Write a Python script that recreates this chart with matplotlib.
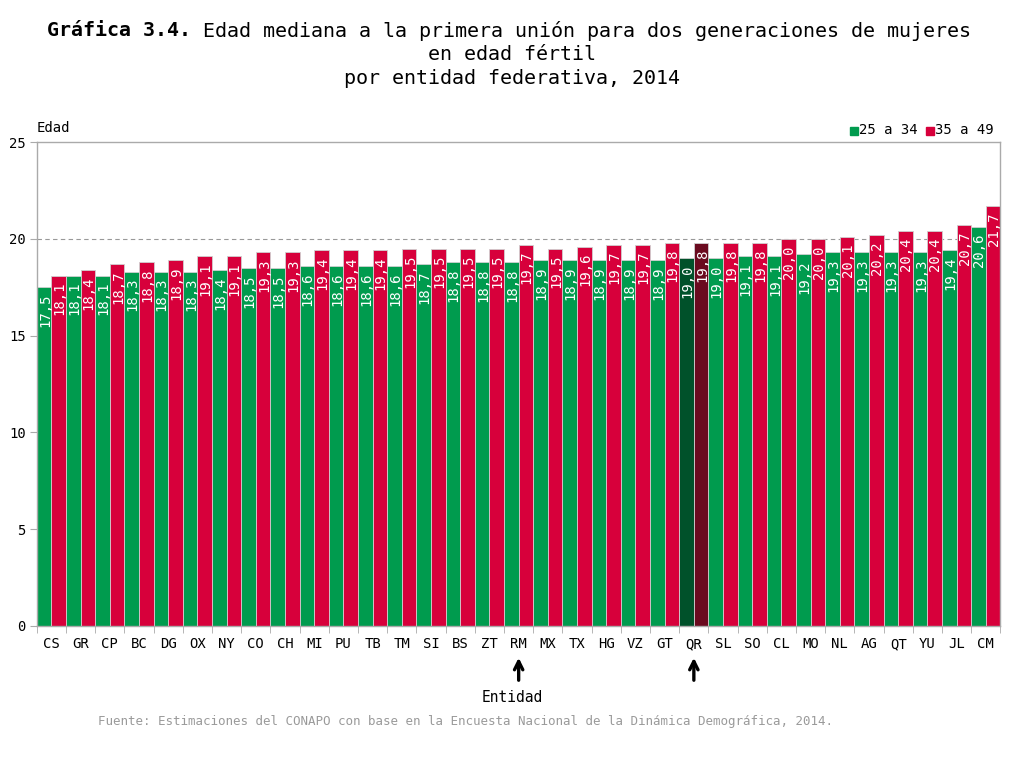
import matplotlib
matplotlib.use("Agg")
import matplotlib.pyplot as plt
import matplotlib.patches as mpatches
import numpy as np

entidades = ["CS", "GR", "CP", "BC", "DG", "OX", "NY", "CO", "CH", "MI", "PU", "TB",
             "TM", "SI", "BS", "ZT", "RM", "MX", "TX", "HG", "VZ", "GT", "QR", "SL",
             "SO", "CL", "MO", "NL", "AG", "QT", "YU", "JL", "CM"]
g25_34 = [17.5, 18.1, 18.1, 18.3, 18.3, 18.3, 18.4, 18.5, 18.5, 18.6, 18.6, 18.6,
          18.6, 18.7, 18.8, 18.8, 18.8, 18.9, 18.9, 18.9, 18.9, 18.9, 19.0, 19.0,
          19.1, 19.1, 19.2, 19.3, 19.3, 19.3, 19.3, 19.4, 20.6]
g35_49 = [18.1, 18.4, 18.7, 18.8, 18.9, 19.1, 19.1, 19.3, 19.3, 19.4, 19.4, 19.4,
          19.5, 19.5, 19.5, 19.5, 19.7, 19.5, 19.6, 19.7, 19.7, 19.8, 19.8, 19.8,
          19.8, 20.0, 20.0, 20.1, 20.2, 20.4, 20.4, 20.7, 21.7]
destacada = "QR"
flechas = ["RM", "QR"]
yticks = [0, 5, 10, 15, 20, 25]

MONO = "DejaVu Sans Mono"
GREEN, RED = "#009B4E", "#D7003B"
DGREEN, DRED = "#00512A", "#6A0A1F"

fig = plt.figure(figsize=(10.24, 7.68), dpi=100)
ax = fig.add_axes([0.036, 0.185, 0.941, 0.63])

x = np.arange(len(entidades))
w = 0.5
cg = [DGREEN if e == destacada else GREEN for e in entidades]
cr = [DRED if e == destacada else RED for e in entidades]
b1 = ax.bar(x - w / 2, g25_34, w, color=cg, edgecolor="#d0d0d0", linewidth=0.6, zorder=2)
b2 = ax.bar(x + w / 2, g35_49, w, color=cr, edgecolor="#d0d0d0", linewidth=0.6, zorder=2)

for bars, vals in ((b1, g25_34), (b2, g35_49)):
    for b, v in zip(bars, vals):
        ax.annotate(f"{v:.1f}".replace(".", ","),
                    xy=(b.get_x() + b.get_width() / 2, v), xytext=(0.5, -4.5),
                    textcoords="offset points", rotation=90, ha="center", va="top",
                    color="white", fontsize=10, family=MONO, zorder=3)

ax.axhline(20, color="#999999", linestyle=(0, (4, 3)), linewidth=0.8, zorder=1)
ax.set_xlim(-0.5, len(entidades) - 0.5)
ax.set_ylim(0, 25)
ax.set_yticks(yticks)
ax.set_yticklabels([str(t) for t in yticks], family=MONO, fontsize=10)
ax.set_xticks(x)
ax.set_xticklabels(entidades, family=MONO, fontsize=10)
ax.tick_params(axis="x", length=0, pad=8)
ax.set_xticks(np.arange(len(entidades) + 1) - 0.5, minor=True)
ax.tick_params(axis="x", which="minor", length=5, color="#aaaaaa")
ax.tick_params(axis="y", length=5, color="#aaaaaa", pad=3)
for s in ax.spines.values():
    s.set_color("#aaaaaa")
    s.set_linewidth(1.0)

for e in flechas:
    i = entidades.index(e)
    ax.annotate("", xy=(i, -1.5), xytext=(i, -2.95), xycoords="data",
                arrowprops=dict(arrowstyle="->,head_length=0.6,head_width=0.3",
                                color="black", lw=2.4), annotation_clip=False)

fig.text(0.5, 1 - 697 / 768, "Entidad", ha="center", va="center", family=MONO, fontsize=10.5)
fig.text(0.036, 1 - 128 / 768, "Edad", ha="left", va="center", family=MONO, fontsize=10)

# Title
t1 = fig.text(0.046, 1 - 31 / 768, "Gráfica 3.4.", ha="left", va="center",
              family=MONO, fontsize=14.4, fontweight="bold")
ax.annotate(" Edad mediana a la primera unión para dos generaciones de mujeres",
            xy=(1, 0.5), xycoords=t1, ha="left", va="center",
            family=MONO, fontsize=14.4, annotation_clip=False)
fig.text(0.5, 1 - 54 / 768, "en edad fértil", ha="center", va="center", family=MONO, fontsize=14.4)
fig.text(0.5, 1 - 78 / 768, "por entidad federativa, 2014", ha="center", va="center",
         family=MONO, fontsize=14.4)

# Legend
ly = 1 - 130 / 768
fig.patches.append(mpatches.Rectangle((850 / 1024, ly - 0.006), 0.0075, 0.01,
                   transform=fig.transFigure, color=GREEN, figure=fig))
fig.text(859 / 1024, ly, "25 a 34", ha="left", va="center", family=MONO, fontsize=10)
fig.patches.append(mpatches.Rectangle((926 / 1024, ly - 0.006), 0.0075, 0.01,
                   transform=fig.transFigure, color=RED, figure=fig))
fig.text(935 / 1024, ly, "35 a 49", ha="left", va="center", family=MONO, fontsize=10)

fig.text(98 / 1024, 1 - 722 / 768,
         "Fuente: Estimaciones del CONAPO con base en la Encuesta Nacional de la Dinámica Demográfica, 2014.",
         ha="left", va="center", family=MONO, fontsize=9, color="#9a9a9a")

fig.savefig("out.png", dpi=100)
